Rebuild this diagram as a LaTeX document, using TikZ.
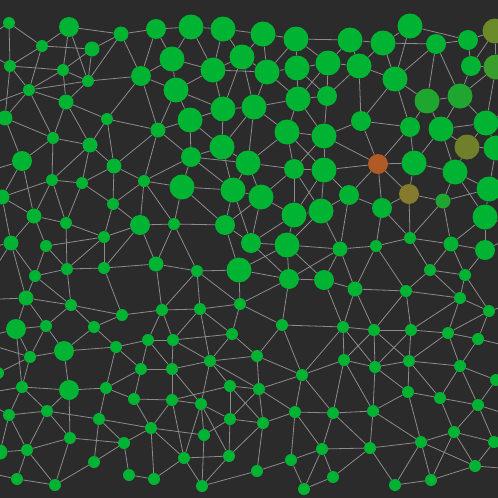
\documentclass[tikz,border=0pt]{standalone}
\definecolor{bgcol}{RGB}{43,43,43}
\definecolor{ngreen}{RGB}{0,179,51}
\definecolor{dgreen}{RGB}{31,166,48}
\definecolor{mgreen}{RGB}{58,158,46}
\definecolor{olivea}{RGB}{107,138,42}
\definecolor{oliveb}{RGB}{112,128,42}
\definecolor{olivec}{RGB}{133,122,46}
\definecolor{rust}{RGB}{176,90,37}
\definecolor{edgegray}{RGB}{140,140,140}
\pgfdeclarelayer{edgelayer}
\pgfsetlayers{edgelayer,main}
\tikzset{
  nd/.style={circle, fill=ngreen, draw=none, inner sep=0pt},
  edge/.style={draw=edgegray, line width=0.8pt}
}
\begin{document}
\begin{tikzpicture}[x=1pt,y=-1pt]
\useasboundingbox (0,0) rectangle (498,498);
\begin{pgfonlayer}{edgelayer}
\fill[bgcol] (-40,-40) rectangle (540,540);
\end{pgfonlayer}
% nodes
\foreach \n/\px/\py/\d in {
A01/9/23/12, A02/42/46/12, A03/69/27/20, A04/92/49/15, A05/121/34/15, A06/156/29/20, A07/191/27/25, A08/223/29/25, A09/263/34/25, A10/296/39/25, A11/350/40/25, A12/383/43/25, A13/410/26/25, A14/436/44/20, A15/468/40/20,
B01/10/66/12, B02/63/70/12, B03/88/81/12, B04/141/76/20, B05/172/59/25, B06/213/70/25, B07/242/57/25, B08/267/72/25, B09/297/68/25, B10/328/63/25, B11/359/66/25, B12/395/79/25, B13/471/66/20,
C01/29/90/12, C02/66/102/15, C03/176/90/25, C04/223/109/25, C05/254/107/25, C06/298/99/25, C07/327/96/20,
D01/5/118/15, D02/107/119/12, D03/190/120/25, D04/158/130/15, D05/287/132/25, D06/324/136/25, D07/361/121/20, D08/410/127/20, D09/441/129/25, D10/486/123/25,
E01/53/138/12, E02/90/145/15, E03/222/147/25, E05/496/148/25,
F01/22/161/20, F02/114/166/15, F03/191/157/20, F04/248/163/25, F05/294/169/20, F06/324/170/25, F08/414/163/25, F09/455/172/25,
G01/52/180/12, G02/82/183/12, G03/144/181/12, G04/182/187/25, G05/233/190/25, G06/261/197/25, G07/349/195/20, G10/489/189/25,
H01/2/197/15, H02/113/204/12, H03/294/215/25, H04/321/211/25, H05/382/208/20, H06/485/217/25, H07/34/216/15, H08/66/223/12, H09/140/225/20, H10/174/224/12, H11/225/225/20,
I01/11/243/15, I02/46/246/12, I03/104/237/12, I04/251/243/20, I05/287/245/25, I06/340/249/15, I07/376/246/12, I08/410/238/12, I09/451/244/15, I10/485/250/20,
J01/67/269/12, J02/104/268/12, J03/156/264/15, J04/197/271/12, J05/239/270/25, J06/289/279/20, J07/324/280/20, J08/355/289/15, J09/430/270/12, J10/465/275/12, J11/35/276/12,
K01/26/298/15, K02/71/305/12, K03/122/315/12, K04/162/310/12, K05/200/309/12, K06/240/304/12, K07/406/291/12, K08/460/298/12, K09/489/311/12,
L01/16/329/20, L02/46/326/12, L03/94/327/12, L04/148/340/12, L05/173/340/12, L06/232/334/12, L07/282/325/12, L08/343/327/12, L09/374/330/12, L10/411/330/12, L11/448/333/12, L12/478/339/12,
M01/64/351/20, M02/116/347/12, M03/30/357/12, M04/210/361/12, M05/257/356/12, M06/344/360/12, M07/375/367/12, M08/409/361/12, M09/460/366/12, M10/141/369/12, M11/172/369/12, M12/302/375/12, M13/496/380/12,
N01/22/387/12, N02/69/390/20, N03/106/388/12, N04/230/386/12, N05/259/389/12, N06/134/399/12, N07/172/400/12, N08/201/404/12, N09/408/392/12, N10/440/398/12, N11/478/405/12,
O01/9/415/12, O02/47/411/12, O03/99/419/12, O04/230/419/12, O05/263/423/12, O06/295/412/12, O07/333/413/12, O08/373/411/12, O09/151/428/12,
P01/70/438/12, P02/124/443/12, P03/204/435/12, P04/421/442/12, P05/454/432/12, P06/494/442/12, P07/0/452/15, P08/27/450/12, P09/322/449/12, P10/370/448/12,
Q01/94/462/12, Q02/184/458/12, Q03/229/456/12, Q04/257/471/12, Q05/291/460/12, Q06/475/466/12, Q07/17/479/12, Q08/55/485/12, Q09/129/475/12, Q10/154/479/12, Q11/202/486/12, Q12/304/489/12, Q13/333/477/12, Q14/395/485/12, Q15/431/480/12,
R01/-2/373/12}
{ \node[nd, minimum size=\d] (\n) at (\px,\py) {}; }
\node[nd, minimum size=25, fill=olivea] (A16) at (495,31) {};
\node[nd, minimum size=25, fill=mgreen] (B14) at (496,67) {};
\node[nd, minimum size=25, fill=dgreen] (C08) at (427,101) {};
\node[nd, minimum size=25, fill=dgreen] (C09) at (460,96) {};
\node[nd, minimum size=25, fill=oliveb] (E04) at (467,147) {};
\node[nd, minimum size=20, fill=rust] (F07) at (378,164) {};
\node[nd, minimum size=20, fill=olivec] (G08) at (409,194) {};
\node[nd, minimum size=15, fill=dgreen] (G09) at (443,201) {};
% off-canvas ends
\coordinate (gl1) at (-25,45); \coordinate (gl2) at (-25,110); \coordinate (gl3) at (-25,175);
\coordinate (gl4) at (-25,250); \coordinate (gl5) at (-25,300); \coordinate (gl6) at (-25,340);
\coordinate (gl7) at (-25,395); \coordinate (gl8) at (-25,470);
\coordinate (gr1) at (525,40); \coordinate (gr2) at (525,100); \coordinate (gr3) at (525,160);
\coordinate (gr4) at (525,230); \coordinate (gr5) at (525,300); \coordinate (gr6) at (525,350);
\coordinate (gr7) at (525,420); \coordinate (gr8) at (525,470);
\begin{pgfonlayer}{edgelayer}
\foreach \a/\b in {
A01/B01, A01/A02, A02/A03, A02/A04, A02/B01, A02/C01, A03/B02, A03/B03, A03/A05, A04/A05, A04/B02, A04/B03, A05/B03, A05/B04, A05/A06, A06/B04, A06/B05, B01/B02, B01/C01, B01/D01, B02/C01, B02/B03, B02/C02, B03/C01, B03/C02, B03/B04, B04/D02, B04/D04, B04/B05, B04/C03, C01/C02, C01/D01, C01/E01, C02/D02, C02/E01, C02/E02, D01/E01, D01/F01, D02/E02, D02/D04, D02/F02, D04/F02, D04/C03, E01/E02, E01/F01, E01/G01, E02/G02, E02/G01, E02/F02,
A06/A07, A07/A08, A08/A09, A09/A10, A10/A11, A07/B05, A07/B06, A08/B06, A08/B07, A09/B07, A09/B08, A10/B08, A10/B09, A10/B10, B05/C03, B05/B06, B06/B07, B06/C04, B06/C03, B06/B08, B07/B08, B07/C05, B07/C04, B08/B09, B08/C05, B08/C06, B09/B10, B09/C06, B09/C07, B10/C07, B10/C06, B10/B11, C03/C04, C03/D03, C04/C05, C04/D03, C04/E03, C05/E03, C05/F04, C05/C06, C05/D05, C06/C07, C06/D05, C06/D06, C07/D06, D03/F03, D03/E03, D03/D04, D05/D06, D05/F05, D05/F04, D05/F06, D06/F05, D06/F06, E03/F03, E03/F04, E03/G05, F03/F04, F04/F05, F05/F06,
A11/A12, A11/B11, A11/B10, A12/A13, A12/A14, A12/B11, A12/B12, A13/A15, A13/B12, A14/A15, A14/B12, A14/C08, A14/C09, A15/B13, A15/A16, A16/B13, A16/B14, B11/B12, B11/D07, B11/C07, B12/C08, B12/D07, B12/D08, B13/C09, B13/B14, B14/C09, B14/D10, C08/C09, C08/D08, C08/D09, C09/D09, C09/D10, D06/D07, D06/F07, D07/D08, D07/F07, D08/F07, D08/F08, D09/F08, D09/E04, D09/D10, D09/F09, D10/E04, D10/E05, E04/E05, E04/F09, F06/F07, F07/F08, F08/F09,
F01/H01, F01/H07, G01/G02, G01/H07, G01/H08, G01/H01, G02/H08, G02/H02, G02/F02, F02/G03, F02/H02, D04/G03, D04/F03, G03/H02, G03/H09, G03/G04, G03/F03, G03/H10, H01/H07, H01/I01, H07/H08, H07/I01, H07/I02, H08/I03, H08/J01, I02/I03, H02/I03, H02/H09, H09/I03, H09/H10, H09/J03, H09/J02, I01/J11, I01/K01, I02/J11, I02/J01, I03/J01, I03/J02, J01/J02, J01/K02, J01/J11, J02/K03, J02/J03, J11/K01, J11/K02, J03/K04, J03/J04, H10/J03, K01/K02, K01/L01, K01/L02, K02/L02, K02/L03, K02/K03, K03/L03, K03/K04, L01/L02,
F03/G04, F03/G05, G04/G05, G04/H10, G04/H11, G05/H11, G05/F04, G05/I04, G05/G06, G06/F04, G06/H03, G06/I04, G06/H11, F05/G06, F05/H03, F05/H04, F06/H04, F06/H03, H03/I04, H03/I05, H03/H04, H04/I06, H04/I05, H10/H11, H10/J04, H11/J05, H11/I04, I04/I05, I04/J06, I05/I06, I05/J06, I05/J05, I05/J07, I06/J06, J04/J05, J04/K05, J04/K06, J04/K04, J05/K06, J05/J06, J06/J07, J06/K06, J06/L07, J07/L08, J07/J08, K05/K06, K05/L06, K05/K04, K05/L05, K05/M04, K06/L06, K06/L07, K04/L04, K04/L05,
F07/H05, F07/G07, F06/G07, F08/G08, F09/G10, F09/H06, F09/G09, G07/H05, G07/I06, G07/H04, G08/I08, G08/G09, G08/H05, G08/F07, G09/I09, G09/I08, G09/G10, G10/H06, G10/E05, H05/I08, H05/I07, H06/I10, H06/I09, I06/I07, I06/J08, I06/J07, I07/I08, I07/K07, I07/J08, I08/J09, I08/I09, I09/J09, I09/J10, I09/I10, I10/J10, J08/K07, J08/L08, J08/L09, J09/K07, J09/J10, J09/K08, J10/K08, J10/K09, K07/K08, K07/L09, K07/L10, K08/K09, K08/L10, K08/L11, K09/L11, K09/L12,
L01/M03, L01/N01, L02/M03, L02/M01, L03/M01, L03/M02, M01/M03, M01/M02, M01/N02, M02/L04, M02/M10, M02/N03, L04/L05, L04/M11, L04/M10, M03/N01, M03/R01, N01/O01, N01/N02, N01/O02, N02/N03, N02/O02, N02/P01, N03/M10, N03/N06, N03/O03, M10/N06, M10/M11, N06/O09, N06/N07, O01/O02, O01/P08, O01/P07, O02/O03, O02/P01, O02/P08, O03/P02, O03/Q01, O03/O09, O09/P02, O09/Q10, O09/N07, O09/P03, O09/Q02, P01/P02, P01/P08, P01/Q08, P02/Q01, P02/Q09, P07/P08, P08/Q07, P08/Q08, Q01/Q08, Q07/Q08, Q09/Q10, Q02/Q10,
L05/L06, L05/M04, L05/M11, L06/M04, L06/M05, L07/M05, L07/M12, L07/L08, M04/M05, M04/M11, M04/N04, M04/N05, M04/N08, M05/N05, M05/M12, M11/N08, M11/N07, N04/N05, N04/N07, N04/O04, N04/O05, N05/M12, N05/O05, N05/O06, N05/O04, M12/O06, M12/O07, M12/M06, M12/L08, N07/N08, N07/Q02, N08/O04, N08/P03, N08/Q02, N08/Q03, O04/O05, O04/P03, O04/Q03, O05/O06, O05/Q03, O05/Q04, O06/O07, O06/Q05, O06/P09, O07/P09, O07/O08, O07/P10, O07/M06, P03/Q11, Q02/Q03, Q02/Q11, Q03/Q11, Q04/Q05, Q04/Q11, Q05/Q12, Q05/P09, P09/Q13, P09/Q12, P09/P10, Q12/Q13,
L08/L09, L08/M06, L08/M07, L09/L10, L09/M06, L09/M07, L09/M08, L10/M07, L10/M08, L10/L11, L11/L12, L11/M09, L11/M08, L12/M09, M06/M07, M06/O08, M07/M08, M07/N09, M07/O08, M08/M09, M08/N09, M08/N10, M09/N10, M09/N11, M09/M13, M13/N11, N09/N10, N09/O08, N09/P04, N10/N11, N10/P05, N11/P05, N11/P06, O08/P10, O08/P04, P04/P05, P04/P10, P04/Q14, P04/Q15, P04/Q06, P05/Q06, P05/Q15, P05/P06, P06/Q06, P10/Q13, P10/Q14, Q14/Q15, Q15/Q06,
gl1/A01, gl1/B01, gl2/C01, gl2/D01, gl3/F01, gl3/H01, gl4/I01, gl5/I01, gl5/K01, gl6/L01, gl6/M03, gl7/N01, gl7/O01, gl7/R01, gl8/P07, gl8/Q07,
gr1/A16, gr2/D10, gr2/B14, gr3/E05, gr4/H06, gr4/I10, gr5/K09, gr6/L12, gr6/M13, gr7/N11, gr7/P06, gr8/Q06}
{ \draw[edge] (\a) -- (\b); }
\end{pgfonlayer}
\end{tikzpicture}
\end{document}
